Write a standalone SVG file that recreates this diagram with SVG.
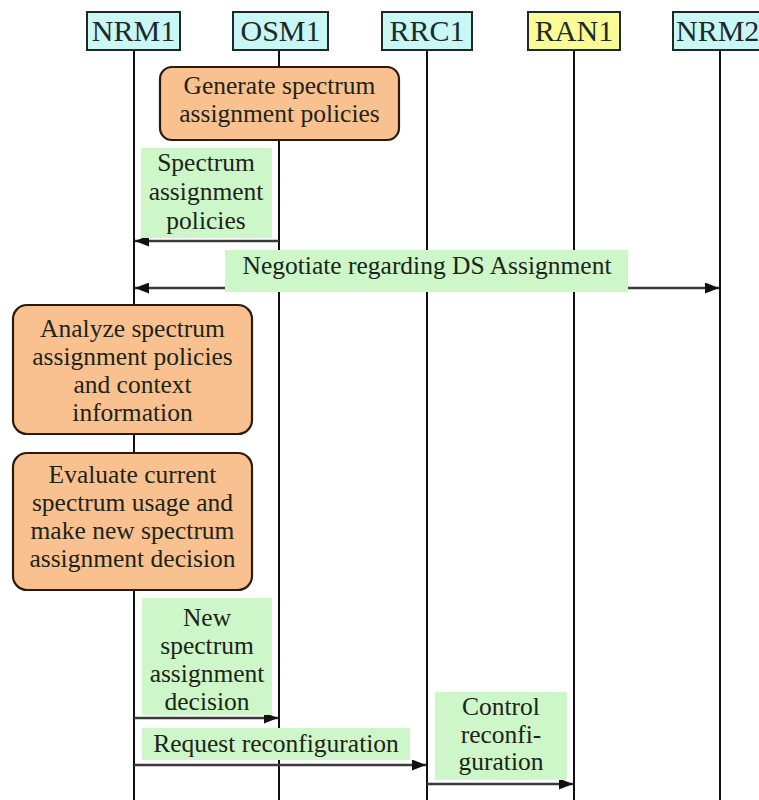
<svg xmlns="http://www.w3.org/2000/svg" width="759" height="800" viewBox="0 0 759 800">
  <style>
    .bg { fill: #ffffff; }
    .head { stroke: #1e2a2a; stroke-width: 2; }
    .cyan { fill: #c9f7f6; }
    .yellow { fill: #fbfb96; }
    .htxt { font-size: 30px; fill: #1c2a28; text-anchor: middle; }
    .life { stroke: #111111; stroke-width: 2; fill: none; }
    .act { fill: #f9c18f; stroke: #2a1a10; stroke-width: 2.2; }
    .lbl { fill: #cdf6c9; }
    .txt { font-size: 25.5px; fill: #1d2418; text-anchor: middle; }
    .msg { stroke: #3a3a3a; stroke-width: 2.6; fill: none; }
  </style>
  <defs>
    <marker id="arrow" viewBox="0 0 14 11" refX="14" refY="5.5" markerWidth="14" markerHeight="11" markerUnits="userSpaceOnUse" orient="auto-start-reverse">
      <path d="M0,0 L14,5.5 L0,11 z" fill="#111111"/>
    </marker>
  </defs>

  <rect class="bg" x="0" y="0" width="759" height="800"/>

  <!-- lifelines -->
  <g id="lifelines">
    <line class="life" x1="134" y1="50" x2="134" y2="800"/>
    <line class="life" x1="279" y1="50" x2="279" y2="800"/>
    <line class="life" x1="427" y1="50" x2="427" y2="800"/>
    <line class="life" x1="574" y1="50" x2="574" y2="800"/>
    <line class="life" x1="720" y1="50" x2="720" y2="800"/>
  </g>

  <g font-family="Liberation Serif, Times New Roman, serif">
  <!-- participants -->
  <g id="NRM1">
    <rect class="head cyan" x="87" y="12" width="93" height="38"/>
    <text class="htxt" x="133.5" y="41">NRM1</text>
  </g>
  <g id="OSM1">
    <rect class="head cyan" x="233" y="12" width="95" height="38"/>
    <text class="htxt" x="280.5" y="41">OSM1</text>
  </g>
  <g id="RRC1">
    <rect class="head cyan" x="382" y="12" width="90" height="38"/>
    <text class="htxt" x="427" y="41">RRC1</text>
  </g>
  <g id="RAN1">
    <rect class="head yellow" x="528" y="12" width="92" height="38"/>
    <text class="htxt" x="574" y="41">RAN1</text>
  </g>
  <g id="NRM2">
    <rect class="head cyan" x="673" y="12" width="100" height="38"/>
    <text class="htxt" x="676" y="41" style="text-anchor:start">NRM2</text>
  </g>

  <!-- activities -->
  <g id="generate">
    <rect class="act" x="160" y="67" width="239" height="73" rx="12"/>
    <text class="txt" x="279.5" y="94">Generate spectrum</text>
    <text class="txt" x="279.5" y="122">assignment policies</text>
  </g>
  <g id="analyze">
    <rect class="act" x="13" y="305" width="239" height="129" rx="14"/>
    <text class="txt" x="132.5" y="337">Analyze spectrum</text>
    <text class="txt" x="132.5" y="365">assignment policies</text>
    <text class="txt" x="132.5" y="393">and context</text>
    <text class="txt" x="132.5" y="421">information</text>
  </g>
  <g id="evaluate">
    <rect class="act" x="13" y="453" width="239" height="137" rx="14"/>
    <text class="txt" x="132.5" y="483">Evaluate current</text>
    <text class="txt" x="132.5" y="511">spectrum usage and</text>
    <text class="txt" x="132.5" y="539">make new spectrum</text>
    <text class="txt" x="132.5" y="567">assignment decision</text>
  </g>

  <!-- messages -->
  <g id="connectors">
    <line class="msg" x1="279" y1="241" x2="135" y2="241" marker-end="url(#arrow)"/>
    <line class="msg" x1="135" y1="288" x2="719" y2="288" marker-start="url(#arrow)" marker-end="url(#arrow)"/>
    <line class="msg" x1="134" y1="718" x2="278" y2="718" marker-end="url(#arrow)"/>
    <line class="msg" x1="134" y1="765" x2="426" y2="765" marker-end="url(#arrow)"/>
    <line class="msg" x1="427" y1="784" x2="573" y2="784" marker-end="url(#arrow)"/>
  </g>

  <!-- message labels -->
  <g id="label-policies">
    <rect class="lbl" x="141" y="148" width="131" height="90"/>
    <text class="txt" x="206" y="171">Spectrum</text>
    <text class="txt" x="206" y="200">assignment</text>
    <text class="txt" x="206" y="229">policies</text>
  </g>
  <g id="label-negotiate">
    <rect class="lbl" x="225" y="250" width="403" height="42"/>
    <text class="txt" x="427" y="274">Negotiate regarding DS Assignment</text>
  </g>
  <g id="label-decision">
    <rect class="lbl" x="142" y="598" width="130" height="117"/>
    <text class="txt" x="207" y="626">New</text>
    <text class="txt" x="207" y="654">spectrum</text>
    <text class="txt" x="207" y="682">assignment</text>
    <text class="txt" x="207" y="710">decision</text>
  </g>
  <g id="label-request">
    <rect class="lbl" x="142" y="728" width="268" height="32"/>
    <text class="txt" x="276" y="752">Request reconfiguration</text>
  </g>
  <g id="label-control">
    <rect class="lbl" x="435" y="692" width="132" height="88"/>
    <text class="txt" x="501" y="715">Control</text>
    <text class="txt" x="501" y="743">reconfi-</text>
    <text class="txt" x="501" y="770">guration</text>
  </g>
  </g>
</svg>
